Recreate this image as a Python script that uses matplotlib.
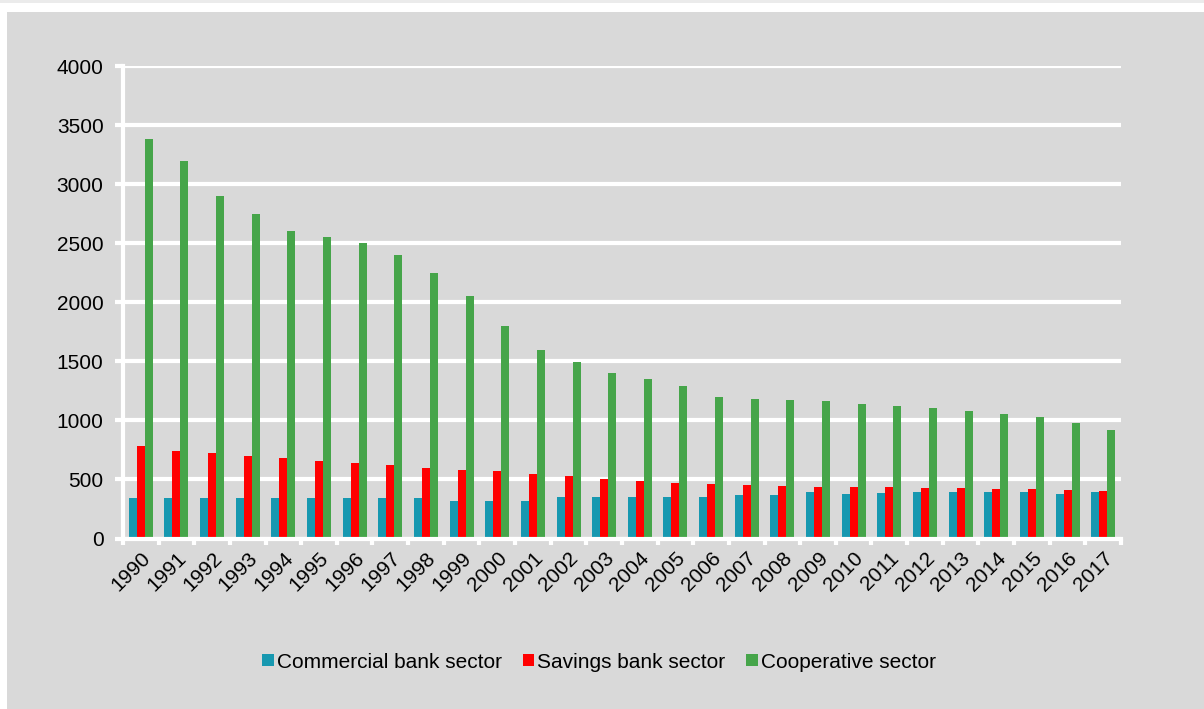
import matplotlib.pyplot as plt
import numpy as np
from matplotlib.patches import Rectangle

plt.rcParams['font.family'] = ['Liberation Sans', 'DejaVu Sans']

# Data
years = [str(y) for y in range(1990, 2018)]
commercial = [340, 340, 340, 340, 340, 340, 340, 340, 340, 315, 315, 315, 355, 355,
              355, 355, 355, 365, 365, 395, 380, 385, 390, 390, 390, 390, 377, 390]
savings = [784, 740, 720, 700, 680, 660, 640, 620, 600, 580, 570, 550, 525, 500,
           485, 470, 465, 455, 445, 440, 435, 432, 430, 425, 422, 420, 410, 398]
cooperative = [3380, 3200, 2900, 2750, 2600, 2550, 2500, 2400, 2250, 2050, 1800, 1600,
               1490, 1400, 1350, 1290, 1200, 1180, 1170, 1160, 1140, 1120, 1108, 1083,
               1052, 1030, 979, 920]
series_names = ['Commercial bank sector', 'Savings bank sector', 'Cooperative sector']
colors = ['#1798b0', '#ff0000', '#46a54a']
bg = '#d9d9d9'
fs = 15

W, H = 1204, 709
fig = plt.figure(figsize=(W / 100, H / 100), dpi=100, facecolor='white')

# background panel with white frame on top/left
fig.add_artist(Rectangle((0, 1 - 3 / H), 1, 3 / H, transform=fig.transFigure,
                         facecolor='#ebebeb', edgecolor='none', zorder=-2))
fig.add_artist(Rectangle((7 / W, 0), 1 - 7 / W, 1 - 12 / H, transform=fig.transFigure,
                         facecolor=bg, edgecolor='none', zorder=-2))

ax = fig.add_axes([123 / W, 1 - 538.5 / H, (1121 - 123) / W, (538.5 - 66) / H])
ax.patch.set_alpha(0)

x = np.arange(len(years))
bw = 0.225
for i, (vals, name, c) in enumerate(zip([commercial, savings, cooperative], series_names, colors)):
    ax.bar(x + (i - 1) * bw, vals, width=bw, color=c, label=name, zorder=3)

ax.set_xlim(-0.5, len(years) - 0.5)
ax.set_ylim(0, 4000)
ax.set_yticks(range(0, 4001, 500))
ax.grid(axis='y', color='white', linewidth=3, zorder=1)
ax.set_axisbelow(True)

for s in ['top', 'right']:
    ax.spines[s].set_visible(False)
for s in ['left', 'bottom']:
    ax.spines[s].set_color('white')
    ax.spines[s].set_linewidth(3)
    ax.spines[s].set_zorder(4)

ax.set_xticks(x)
ax.set_xticklabels(years, rotation=45, ha='right', rotation_mode='anchor', fontsize=fs)
ax.tick_params(axis='x', length=0, pad=7)
ax.set_xticks(np.arange(-0.5, len(years)), minor=True)
ax.tick_params(axis='x', which='minor', length=4, width=3, color='white', direction='out')
ax.tick_params(axis='y', length=6, width=3, color='white', labelsize=fs, pad=8)

leg = ax.legend(loc='center', bbox_to_anchor=(599 / W, 1 - 662 / H), bbox_transform=fig.transFigure,
                ncol=3, frameon=False, fontsize=fs, handlelength=0.55, handleheight=0.55,
                handletextpad=0.15, columnspacing=1.0)

fig.savefig('out.png', dpi=100, facecolor=fig.get_facecolor())
